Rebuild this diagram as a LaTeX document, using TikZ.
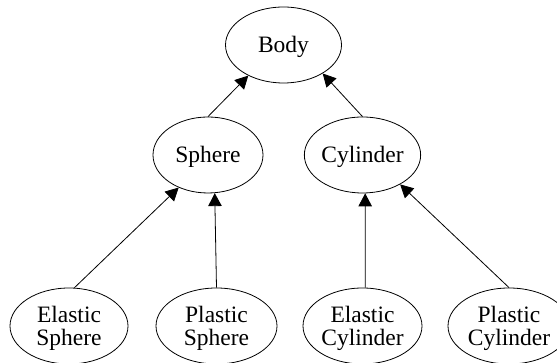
\documentclass[tikz,border=0pt]{standalone}
\usepackage{fontspec}
\setmainfont{Liberation Serif}
\usetikzlibrary{shapes.geometric,arrows.meta}

\tikzset{
  cls/.style={ellipse, draw, line width=0.8pt, inner sep=0pt,
    minimum height=76pt, align=center,
    text height=16pt, text depth=0pt,
    font=\fontsize{23.5}{23}\selectfont},
  % two-line labels: the box height runs from the last baseline to the first cap line
  cls2/.style={cls, text height=39pt},
  inherit/.style={line width=0.8pt, -{Triangle[length=13pt,width=13.5pt]}}
}

\begin{document}
\begin{tikzpicture}[x=1pt,y=1pt]
  \useasboundingbox (0,0) rectangle (557,363);

  % class hierarchy
  \node[cls, minimum width=116pt] (body) at (283.5,318) {Body};
  \node[cls, minimum width=110pt] (sph)  at (208,208)   {Sphere};
  \node[cls, minimum width=113pt] (cyl)  at (362.5,208) {Cylinder};

  \node[cls2, minimum width=118pt] (esph) at (69,37)    {Elastic\\Sphere};
  \node[cls2, minimum width=121pt] (psph) at (216.5,37) {Plastic\\Sphere};
  \node[cls2, minimum width=119pt] (ecyl) at (362.5,37) {Elastic\\Cylinder};
  \node[cls2, minimum width=122pt] (pcyl) at (509,37)   {Plastic\\Cylinder};

  % inheritance arrows, child to parent
  \draw[inherit] (esph.82.5) -- (sph.228.6);
  \draw[inherit] (psph.90)   -- (sph.280);
  \draw[inherit] (ecyl.86)   -- (cyl.274);
  \draw[inherit] (pcyl.90)   -- (cyl.322);
  \draw[inherit] (sph.90)    -- (body.221);
  \draw[inherit] (cyl.90)    -- (body.324);
\end{tikzpicture}
\end{document}
